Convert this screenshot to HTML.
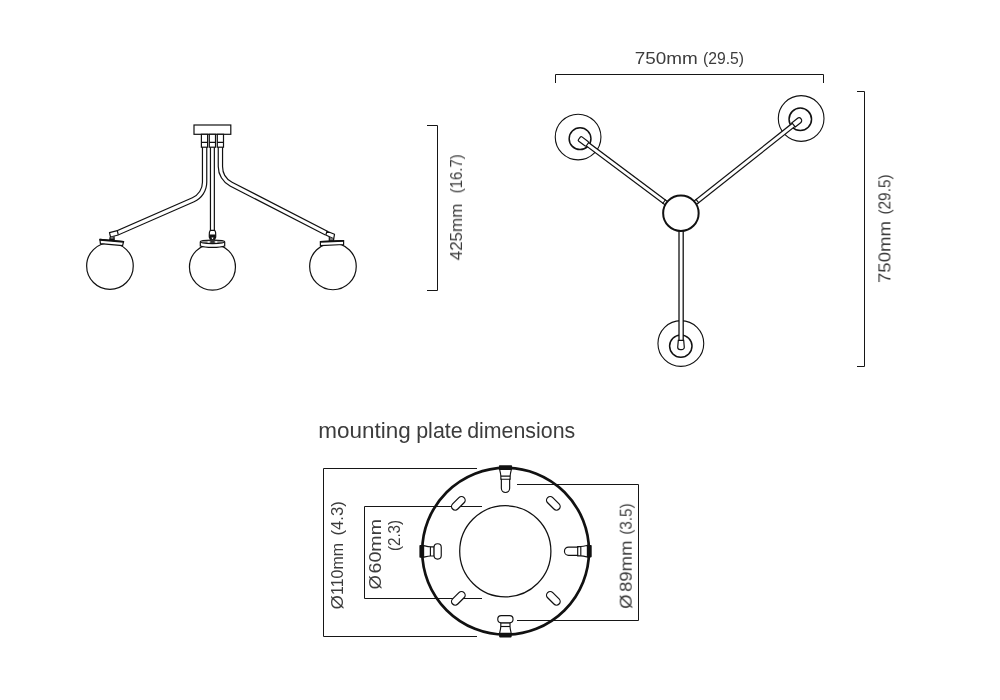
<!DOCTYPE html>
<html lang="en">
<head>
<meta charset="utf-8">
<title>Dimensions</title>
<style>
html,body{margin:0;padding:0;background:#fff;}
body{width:1000px;height:700px;overflow:hidden;position:relative;}
svg{position:absolute;left:0;top:0;display:block;}
text{font-family:"Liberation Sans",sans-serif;fill:#3a3a3a;}
.ln{fill:none;stroke:#111;}
.wf{fill:#fff;}
.dim{fill:none;stroke:#161616;stroke-linejoin:miter;}
.tb{fill:none;stroke:#111;stroke-linecap:butt;stroke-linejoin:round;}
.tw{fill:none;stroke:#fff;stroke-linecap:butt;stroke-linejoin:round;}
</style>
</head>
<body>
<svg width="1000" height="700" viewBox="0 0 1000 700" stroke-width="1">
<rect width="1000" height="700" fill="#fff"/>

<!-- ============ SIDE ELEVATION ============ -->
<g id="side" stroke-width="1.2">
  <!-- globes -->
  <circle cx="109.95" cy="266.05" r="23.3" class="ln wf"/>
  <circle cx="212.45" cy="267.1" r="23" class="ln wf"/>
  <circle cx="332.95" cy="266.45" r="23.3" class="ln wf"/>

  <!-- tubes: black outline + white core -->
  <path d="M204.6 147 V182.3 A19 19 0 0 1 193.24 199.72 L117.75 232.85" class="tb" stroke-width="5.5"/>
  <path d="M204.6 146 V182.3 A19 19 0 0 1 193.24 199.72 L116.8 233.27" class="tw" stroke-width="3.1"/>
  <path d="M220.4 147 V166.3 A20 20 0 0 0 231.05 184.08 L326.4 233.1" class="tb" stroke-width="5.5"/>
  <path d="M220.4 146 V166.3 A20 20 0 0 0 231.05 184.08 L327.3 233.55" class="tw" stroke-width="3.1"/>
  <path d="M212.4 147 V230.3" class="tb" stroke-width="5.1"/>
  <path d="M212.4 146 V231" class="tw" stroke-width="2.7"/>

  <!-- canopy -->
  <rect x="194" y="125" width="36.8" height="9.3" class="ln wf"/>
  <!-- connectors -->
  <rect x="201.4" y="134.3" width="6.2" height="12.9" class="ln wf"/>
  <rect x="209.3" y="134.3" width="6.2" height="12.9" class="ln wf"/>
  <rect x="217.3" y="134.3" width="6.2" height="12.9" class="ln wf"/>
  <path d="M201.4 142.3 h6.2 M209.3 142.3 h6.2 M217.3 142.3 h6.2" class="ln"/>

  <!-- left joint + cap -->
  <path d="M109.5 232.6 L117.3 230.7 L118.3 235 L110.5 237 Z" class="ln wf" stroke-linejoin="round"/>
  <path d="M110.2 237.2 L109.8 239.4 H114.2 L114 236.3" class="ln" style="fill:#777"/>
  <path d="M99.9 239.4 L123.6 241.5 L122.6 245.6 L100.4 243.6 Z" class="ln wf" stroke-linejoin="round"/>
  <path d="M99.9 239.4 L123.6 241.5 L123.5 242.1 L100 240.1 Z" fill="#111" stroke="#111" stroke-width="1.1" stroke-linejoin="round"/>

  <!-- right joint + cap -->
  <path d="M327 231.2 L334.5 234.3 L333.7 238.8 L325.8 235 Z" class="ln wf" stroke-linejoin="round"/>
  <path d="M329.3 237 L329.3 241 H333.5 L333.6 238.8" class="ln" style="fill:#777"/>
  <path d="M320.4 241.5 L343.6 240.5 L343.6 244.5 L320.4 245.6 Z" class="ln wf" stroke-linejoin="round"/>
  <path d="M320.4 241.5 L343.6 240.5 L343.6 241.1 L320.4 242.1 Z" fill="#111" stroke="#111" stroke-width="1.1" stroke-linejoin="round"/>

  <!-- middle joint + cap -->
  <path d="M210.3 230.3 C209.4 231.4 209.2 233 209.3 234.4 V237 L210.5 239.7 H214.5 L215.7 237 V234.4 C215.8 233 215.6 231.4 214.7 230.3 Z" class="ln wf"/>
  <path d="M209.3 234.4 H215.7 V237 L214.5 239.7 H210.5 L209.3 237 Z" fill="#111"/>
  <path d="M211.5 237.4 L212.5 240 L213.5 237.4 Z" style="fill:#fff"/>
  <rect x="210.5" y="239.7" width="4" height="3.4" fill="#333" stroke="#222" stroke-width="0.8"/>
  <path d="M200.3 242 V246 C205 247.9 220 247.9 224.7 246 V242" class="ln wf"/>
  <ellipse cx="212.5" cy="241.8" rx="12.2" ry="1.7" class="ln" style="fill:#999" stroke-width="1.3"/>
  <rect x="207.6" y="241.2" width="2.1" height="1.5" style="fill:#fff"/>
  <rect x="215.2" y="241.2" width="2.1" height="1.5" style="fill:#fff"/>
  <rect x="210.5" y="239.7" width="4" height="3.2" fill="#333"/>
</g>

<!-- 425mm bracket -->
<path d="M427 125.5 H437.5 V290.5 H427" class="dim"/>

<!-- ============ TOP VIEW ============ -->
<g id="top" stroke-width="1.1">
  <!-- discs -->
  <circle cx="578.1" cy="137.05" r="22.85" class="ln"/>
  <circle cx="580.05" cy="138.65" r="10.9" class="ln" stroke-width="1.5"/>
  <circle cx="801.15" cy="118.5" r="22.85" class="ln"/>
  <circle cx="800.3" cy="119.3" r="11.25" class="ln" stroke-width="1.5"/>
  <circle cx="680.85" cy="343.5" r="22.9" class="ln"/>
  <circle cx="680.8" cy="346.1" r="11.2" class="ln" stroke-width="1.5"/>

  <!-- arms -->
  <path d="M680.9 214.2 L587.01 143.99" class="tb" stroke-width="5.3"/>
  <path d="M680.9 214.2 L586.21 143.39" class="tw" stroke-width="2.9"/>
  <path d="M680.9 214.2 L793.81 124.68" class="tb" stroke-width="5.3"/>
  <path d="M680.9 214.2 L794.60 124.06" class="tw" stroke-width="2.9"/>
  <path d="M681.1 213.2 V341" class="tb" stroke-width="5.5"/>
  <path d="M681.1 213.2 V342" class="tw" stroke-width="2.9"/>
  <!-- collars next to hub -->
  <g transform="translate(680.9 214.2) rotate(-143.21)"><path d="M21 -2.6 V2.6" class="ln"/></g>
  <g transform="translate(680.9 214.2) rotate(-38.41)"><path d="M21 -2.6 V2.6" class="ln"/></g>

  <!-- end blocks -->
  <g transform="translate(579.4 138.3) rotate(36.79)"><rect x="0" y="-2.7" width="10" height="5.4" rx="1.2" class="ln wf" stroke-width="1.2"/></g>
  <g transform="translate(801.1 118.9) rotate(141.59)"><path d="M9.6 -2.7 H2.7 A2.7 2.7 0 0 0 2.7 2.7 H9.6 Z" class="ln wf" stroke-width="1.2"/></g>
  <path d="M678.3 340.4 H683.7 L684.3 347.2 A2.6 2.4 0 0 1 681.7 349.6 H680.3 A2.6 2.4 0 0 1 677.7 347.2 Z" class="ln wf" stroke-width="1.2"/>

  <!-- hub -->
  <circle cx="680.9" cy="213.2" r="17.75" class="ln wf" stroke-width="2"/>
</g>

<!-- 750 top bracket -->
<path d="M555.5 83 V74.5 H823.5 V83" class="dim"/>
<!-- 750 right bracket -->
<path d="M857 91.5 H864.5 V366.5 H857" class="dim"/>

<!-- ============ MOUNTING PLATE ============ -->

<g id="plate">
  <!-- dimension lines -->
  <path d="M477 468.5 H323.5 V636.5 H477" class="dim"/>
  <path d="M482 506.5 H364.5 V598.5 H482" class="dim"/>
  <path d="M517 484.5 H638.5 V620.5 H517" class="dim"/>

  <circle cx="505.6" cy="551.2" r="83.4" class="ln" stroke-width="2.7"/>
  <circle cx="505.3" cy="551.3" r="45.6" class="ln" stroke-width="1.25"/>

  <!-- slots -->
  <g stroke-width="1.25">
  <g transform="translate(458.35 503.3) rotate(-45)"><rect x="-8.1" y="-3.65" width="16.2" height="7.3" rx="3.65" class="ln wf"/></g>
  <g transform="translate(553.35 503.3) rotate(45)"><rect x="-8.1" y="-3.65" width="16.2" height="7.3" rx="3.65" class="ln wf"/></g>
  <g transform="translate(458.35 598.3) rotate(-45)"><rect x="-8.1" y="-3.65" width="16.2" height="7.3" rx="3.65" class="ln wf"/></g>
  <g transform="translate(553.35 598.3) rotate(45)"><rect x="-8.1" y="-3.65" width="16.2" height="7.3" rx="3.65" class="ln wf"/></g>
  </g>

  <!-- keyholes -->
  <g stroke-width="1.15">
  <!-- top (U type) -->
  <g transform="translate(505.5 551.2)">
    <path d="M-5.85 -81.7 C-5.3 -79.5 -4.75 -77.5 -4.65 -75.1 V-72 H-4.15 V-62.9 A4.15 4.15 0 0 0 4.15 -62.9 V-72 H4.65 V-75.1 C4.75 -77.5 5.3 -79.5 5.85 -81.7 Z" class="ln wf"/>
    <path d="M-4.65 -75.1 H4.65 M-4.65 -72 H4.65" class="ln"/>
    <rect x="-6.6" y="-86" width="13.2" height="4.3" rx="0.8" fill="#111"/>
  </g>
  <!-- right (U type) -->
  <g transform="translate(505.7 551.2) rotate(90)">
    <path d="M-5.85 -81.7 C-5.3 -79.5 -4.75 -77.5 -4.65 -75.1 V-72 H-4.15 V-62.9 A4.15 4.15 0 0 0 4.15 -62.9 V-72 H4.65 V-75.1 C4.75 -77.5 5.3 -79.5 5.85 -81.7 Z" class="ln wf"/>
    <path d="M-4.65 -75.1 H4.65 M-4.65 -72 H4.65" class="ln"/>
    <rect x="-6.2" y="-86" width="12.4" height="4.6" rx="0.8" fill="#111"/>
  </g>
  <!-- bottom (head type) -->
  <g transform="translate(505.4 551.2)">
    <path d="M-4.6 71.5 V75.3 C-4.7 77.6 -5.3 79.8 -5.8 82.1 H5.8 C5.3 79.8 4.7 77.6 4.6 75.3 V71.5 Z" class="ln wf"/>
    <path d="M-4.6 75.3 H4.6" class="ln"/>
    <rect x="-7.65" y="64.45" width="15.3" height="7.2" rx="3.5" class="ln wf"/>
    <rect x="-6.3" y="82.1" width="12.6" height="4.1" rx="0.8" fill="#111"/>
  </g>
  <!-- left (head type) -->
  <g transform="translate(505.7 551.4) rotate(90)">
    <path d="M-4.6 71.5 V75.3 C-4.7 77.6 -5.3 79.8 -5.8 82.1 H5.8 C5.3 79.8 4.7 77.6 4.6 75.3 V71.5 Z" class="ln wf"/>
    <path d="M-4.6 75.3 H4.6" class="ln"/>
    <rect x="-7.65" y="64.45" width="15.3" height="7.2" rx="3.5" class="ln wf"/>
    <rect x="-6.4" y="82.1" width="12.8" height="4.2" rx="0.8" fill="#111"/>
  </g>
  </g>

  <!-- labels -->
</g>

<!-- ============ LABELS ============ -->
<g id="labels" font-size="16.8" opacity="0.99">
  <text y="64"><tspan id="t1a" x="634.7" textLength="63" lengthAdjust="spacingAndGlyphs">750mm</tspan> <tspan id="t1b" x="703" textLength="41" lengthAdjust="spacingAndGlyphs">(29.5)</tspan></text>
  <text transform="translate(462 260.3) rotate(-90)"><tspan id="t2a" x="0" textLength="56.5" lengthAdjust="spacingAndGlyphs">425mm</tspan> <tspan id="t2b" x="67" textLength="39" lengthAdjust="spacingAndGlyphs">(16.7)</tspan></text>
  <text transform="translate(890.4 283) rotate(-90)"><tspan id="t3a" x="0" textLength="62" lengthAdjust="spacingAndGlyphs">750mm</tspan> <tspan id="t3b" x="68.4" textLength="40.2" lengthAdjust="spacingAndGlyphs">(29.5)</tspan></text>
  <text transform="translate(343 609.5) rotate(-90)"><tspan id="t4a" x="0" textLength="14.5" lengthAdjust="spacingAndGlyphs">Ø</tspan><tspan id="t4b" x="14.5" textLength="52" lengthAdjust="spacingAndGlyphs">110mm</tspan> <tspan id="t4c" x="73.9" textLength="34.5" lengthAdjust="spacingAndGlyphs">(4.3)</tspan></text>
  <text transform="translate(381.3 589.4) rotate(-90)"><tspan id="t5a" x="0" textLength="14.5" lengthAdjust="spacingAndGlyphs">Ø</tspan><tspan id="t5b" x="15.9" textLength="54.6" lengthAdjust="spacingAndGlyphs">60mm</tspan> <tspan id="t5c" x="38.3" y="19" textLength="31.2" lengthAdjust="spacingAndGlyphs">(2.3)</tspan></text>
  <text transform="translate(631.7 608.9) rotate(-90)"><tspan id="t6a" x="0" textLength="14.5" lengthAdjust="spacingAndGlyphs">Ø</tspan> <tspan id="t6b" x="16.9" textLength="51.5" lengthAdjust="spacingAndGlyphs">89mm</tspan> <tspan id="t6c" x="74.3" textLength="31.2" lengthAdjust="spacingAndGlyphs">(3.5)</tspan></text>
  <text y="438" font-size="21.4"><tspan id="t7a" x="318.3" textLength="92.5" lengthAdjust="spacingAndGlyphs">mounting</tspan> <tspan id="t7b" x="416.2" textLength="46.5" lengthAdjust="spacingAndGlyphs">plate</tspan> <tspan id="t7c" x="467.2" textLength="108" lengthAdjust="spacingAndGlyphs">dimensions</tspan></text>
</g>
</svg>
</body>
</html>
